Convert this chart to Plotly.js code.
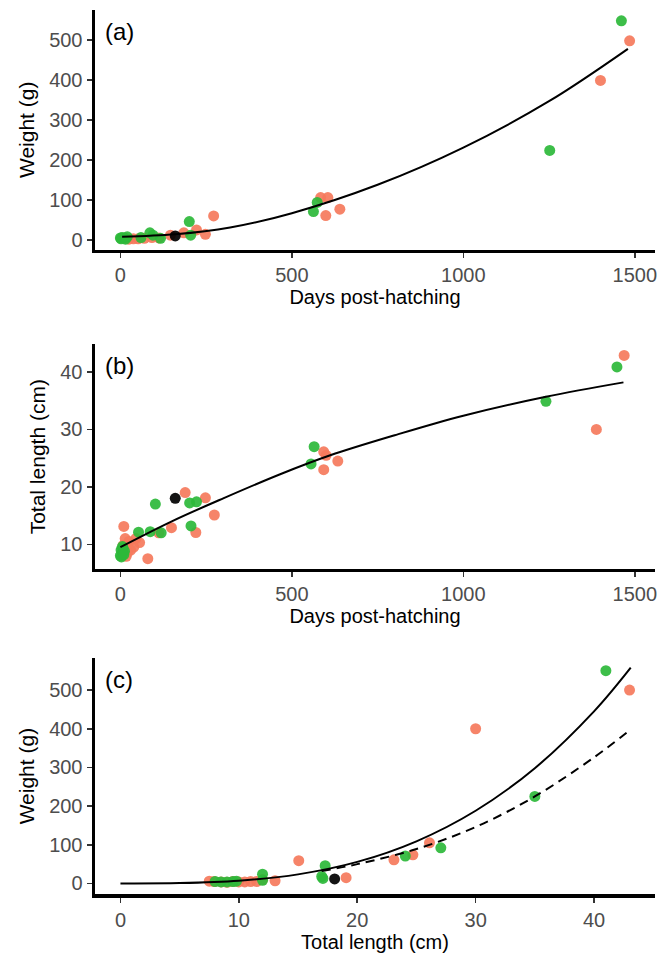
<!DOCTYPE html>
<html>
<head>
<meta charset="utf-8">
<script src="https://cdn.plot.ly/plotly-3.0.1.min.js"></script>
<style>html,body{margin:0;padding:0;background:#fff;}#chart{width:670px;height:954px;}</style>
</head>
<body>
<div id="chart"></div>
<script>
// ---------- Panel (a): Weight vs Days post-hatching ----------
const salmonA_days = [1485, 1400, 584, 605, 599, 640, 272, 222, 248, 185, 146, 112, 92, 70, 52, 38, 25, 15];
const salmonA_wt   = [498, 399, 106, 106, 61, 77, 60, 25, 14, 18, 12, 5, 6, 4, 3, 3, 2, 4];
const greenA_days  = [1461, 1252, 574, 563, 201, 205, 86, 95, 117, 60, 20, 10, 5, 2, 0, 15];
const greenA_wt    = [548, 224, 94, 71, 46, 12, 18, 12, 4, 6, 8, 5, 6, 3, 5, 2];
const blackA_days  = [160];
const blackA_wt    = [10];
const fitA_days    = [5, 160, 320, 500, 750, 1000, 1250, 1480];
const fitA_wt      = [8, 14, 31, 67, 138, 231, 347, 478];

// ---------- Panel (b): Total length vs Days post-hatching ----------
const salmonB_days = [1469, 1388, 593, 600, 593, 634, 189, 248, 274, 220, 149, 112, 80, 10, 14, 39, 56, 17, 25, 30, 20, 45, 8];
const salmonB_len  = [42.9, 30.0, 26.1, 25.5, 23.0, 24.5, 19.0, 18.1, 15.1, 12.05, 12.9, 12.0, 7.5, 13.1, 11.0, 9.5, 10.3, 7.9, 10.5, 9.0, 8.5, 11.0, 9.8];
const greenB_days  = [1448, 1241, 565, 556, 102, 202, 222, 206, 119, 87, 53, 2, 5, 8, 0, 12, 3, 6, 10];
const greenB_len   = [40.9, 34.9, 27.0, 24.0, 17.0, 17.2, 17.4, 13.2, 12.0, 12.2, 12.1, 9.0, 8.5, 9.3, 8.0, 8.8, 7.8, 9.6, 8.2];
const blackB_days  = [160];
const blackB_len   = [18.0];
const fitB_days    = [0, 150, 300, 466, 612, 800, 1000, 1241, 1467];
const fitB_len     = [9.5, 14.0, 18.0, 22.2, 25.5, 29.0, 32.4, 35.7, 38.2];

// ---------- Panel (c): Weight vs Total length ----------
const salmonC_len  = [43.0, 30.0, 26.1, 24.7, 23.1, 15.06, 19.06, 13.06, 12.0, 11.5, 11.0, 10.5, 10.0, 9.5, 8.5, 7.9, 7.5, 9.0];
const salmonC_wt   = [500, 400, 105, 74, 61, 59, 15, 7, 10, 5, 5, 4, 4, 5, 4, 5, 6, 3];
const greenC_len   = [41.0, 35.0, 27.06, 24.06, 17.29, 17.1, 17.0, 12.0, 12.0, 9.5, 9.0, 8.0, 9.8, 8.5];
const greenC_wt    = [550, 225, 92, 71, 46, 13, 18, 24, 8, 5, 4, 5, 6, 4];
const blackC_len   = [18.09];
const blackC_wt    = [11.6];
const fitC_len     = [0, 5, 10, 15, 20, 25, 30, 35, 40, 43.1];
const fitC_wt      = [0, 0.9, 7, 23.5, 55.7, 109, 188, 298, 445, 558];
const fitC2_len    = [17, 20, 25, 30, 35, 40, 43.1];
const fitC2_wt     = [32, 50, 89, 146, 225, 326, 398];

const xTicksDays = [0, 500, 1000, 1500];
const yTicksWt   = [0, 100, 200, 300, 400, 500];
const yTicksLen  = [10, 20, 30, 40];
const xTicksLen  = [0, 10, 20, 30, 40];

const SALMON = '#F57A5C';
const GREEN  = '#2DB83A';
const FONT = 'Liberation Sans, Arial, Helvetica, sans-serif';

function pts(x, y, color, xa, ya) {
  return {x: x, y: y, type: 'scatter', mode: 'markers', xaxis: xa, yaxis: ya,
          marker: {color: color, size: 11, opacity: 0.92, line: {width: 0}},
          hoverinfo: 'skip', showlegend: false};
}
function fit(x, y, xa, ya, dash) {
  return {x: x, y: y, type: 'scatter', mode: 'lines', xaxis: xa, yaxis: ya,
          line: {color: '#000', width: 2, shape: 'spline', dash: dash || 'solid'},
          hoverinfo: 'skip', showlegend: false};
}

const data = [
  pts(salmonA_days, salmonA_wt, SALMON, 'x', 'y'),
  pts(greenA_days, greenA_wt, GREEN, 'x', 'y'),
  fit(fitA_days, fitA_wt, 'x', 'y'),
  pts(blackA_days, blackA_wt, '#000', 'x', 'y'),

  pts(salmonB_days, salmonB_len, SALMON, 'x2', 'y2'),
  pts(greenB_days, greenB_len, GREEN, 'x2', 'y2'),
  fit(fitB_days, fitB_len, 'x2', 'y2'),
  pts(blackB_days, blackB_len, '#000', 'x2', 'y2'),

  pts(salmonC_len, salmonC_wt, SALMON, 'x3', 'y3'),
  pts(greenC_len, greenC_wt, GREEN, 'x3', 'y3'),
  fit(fitC_len, fitC_wt, 'x3', 'y3'),
  fit(fitC2_len, fitC2_wt, 'x3', 'y3', '9px,6px'),
  pts(blackC_len, blackC_wt, '#000', 'x3', 'y3')
];

function xax(range, ticks, title, anchor) {
  return {range: range, tickvals: ticks, ticktext: ticks.map(String), anchor: anchor,
          showline: true, linecolor: '#000', linewidth: 3.5, mirror: false,
          ticks: 'outside', ticklen: 5, tickwidth: 1.5, tickcolor: '#333',
          tickfont: {size: 20, color: '#4D4D4D', family: FONT},
          showgrid: false, zeroline: false, automargin: false,
          title: {text: title, font: {size: 20, color: '#000', family: FONT}, standoff: 2}};
}
function yax(range, ticks, title, domain, anchor) {
  return {range: range, tickvals: ticks, ticktext: ticks.map(String), domain: domain, anchor: anchor,
          showline: true, linecolor: '#000', linewidth: 3.5, mirror: false,
          ticks: 'outside', ticklen: 5, tickwidth: 1.5, tickcolor: '#333',
          tickfont: {size: 20, color: '#4D4D4D', family: FONT},
          showgrid: false, zeroline: false, automargin: false,
          title: {text: title, font: {size: 21, color: '#000', family: FONT}, standoff: 10}};
}

const layout = {
  width: 670, height: 954,
  margin: {l: 95, r: 15, t: 0, b: 0},
  paper_bgcolor: '#fff', plot_bgcolor: '#fff',
  font: {family: FONT},
  xaxis:  xax([-74, 1559], xTicksDays, 'Days post-hatching', 'y'),
  yaxis:  yax([-24, 575], yTicksWt, 'Weight (g)', [0.7384, 0.9895], 'x'),
  xaxis2: xax([-74, 1559], xTicksDays, 'Days post-hatching', 'y2'),
  yaxis2: yax([5.7, 44.8], yTicksLen, 'Total length (cm)', [0.4036, 0.6389], 'x2'),
  xaxis3: xax([-2.15, 45.15], xTicksLen, 'Total length (cm)', 'y3'),
  yaxis3: yax([-28, 583], yTicksWt, 'Weight (g)', [0.0626, 0.3103], 'x3'),
  annotations: [
    {text: '(a)', xref: 'x domain', yref: 'y domain', x: 0, y: 1, xanchor: 'left', yanchor: 'top', xshift: 8, yshift: -6, showarrow: false, font: {size: 24, color: '#000', family: FONT}},
    {text: '(b)', xref: 'x2 domain', yref: 'y2 domain', x: 0, y: 1, xanchor: 'left', yanchor: 'top', xshift: 8, yshift: -6, showarrow: false, font: {size: 24, color: '#000', family: FONT}},
    {text: '(c)', xref: 'x3 domain', yref: 'y3 domain', x: 0, y: 1, xanchor: 'left', yanchor: 'top', xshift: 8, yshift: -6, showarrow: false, font: {size: 24, color: '#000', family: FONT}}
  ]
};

Plotly.newPlot('chart', data, layout, {staticPlot: true, displayModeBar: false});
</script>
</body>
</html>
